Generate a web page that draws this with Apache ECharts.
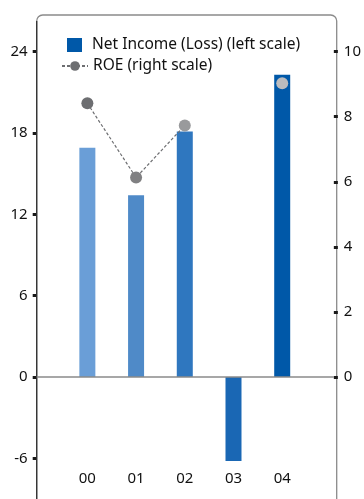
<!DOCTYPE html>
<html>
<head>
<meta charset="utf-8">
<script src="https://cdn.jsdelivr.net/npm/echarts@6/dist/echarts.min.js"></script>
<style>
html,body{margin:0;padding:0;background:#fff;}
#c{width:364px;height:499px;}
</style>
</head>
<body>
<div id="c"></div>
<script>
var categories = ['00', '01', '02', '03', '04'];
var netIncome = [16.9, 13.4, 18.1, -6.2, 22.3];
var roe = [8.41, 6.13, 7.73, null, 9.03];
var barColors = ['#6a9ed7', '#4f8ac8', '#2f77bf', '#1a67b4', '#0058a8'];
var dotColors = ['#6d6e71', '#808082', '#999a9c', '#bcbcbe', '#bcbcbe'];
var leftTicks = [-6, 0, 6, 12, 18, 24];
var rightTicks = [0, 2, 4, 6, 8, 10];

var FONT = 'Noto Sans';
var gL = 36.7, gR = 336.7, gT = 15, gB = 500.3;
var W = 364, H = 499;

var chart = echarts.init(document.getElementById('c'), null, {renderer: 'canvas'});

var barData = netIncome.map(function (v, i) {
  return {value: [i, v], itemStyle: {color: barColors[i]}};
});
var lineData = roe.map(function (v, i) {
  return {value: [i, v], itemStyle: {color: dotColors[i]}};
});

var option = {
  animation: false,
  textStyle: {fontFamily: FONT},
  grid: {left: gL, right: W - gR, top: gT, bottom: H - gB, containLabel: false},
  graphic: [
    {
      type: 'rect', z: 0, silent: true,
      shape: {x: gL, y: gT, width: gR - gL, height: 700, r: 6},
      style: {fill: 'none', stroke: '#8a8a8a', lineWidth: 1.3}
    },
    {
      type: 'line', z: 1, silent: true,
      shape: {x1: gL, y1: gT + 6, x2: gL, y2: 520},
      style: {stroke: '#333', lineWidth: 1.3}
    }
  ],
  legend: [
    {
      data: [{name: 'Net Income (Loss) (left scale)', icon: 'rect'}],
      left: 67, top: 37, itemWidth: 15, itemHeight: 14, padding: 0,
      selectedMode: false,
      textStyle: {fontFamily: FONT, fontSize: 15.5, color: '#111', padding: [0, 0, 0, 5]}
    },
    {
      data: [{name: 'ROE (right scale)'}],
      left: 61, top: 58, itemWidth: 26, itemHeight: 12, padding: 0,
      selectedMode: false,
      textStyle: {fontFamily: FONT, fontSize: 15.5, color: '#111', padding: [0, 0, 0, 0]}
    }
  ],
  xAxis: {
    type: 'value', min: -1.04, max: 5.06,
    offset: -28,
    axisLine: {show: false, onZero: false},
    axisTick: {show: false},
    splitLine: {show: false},
    axisLabel: {
      customValues: categories.map(function (c, i) { return i; }),
      formatter: function (v) { return categories[Math.round(v)]; },
      margin: 0, fontSize: 15, color: '#111', fontFamily: FONT
    }
  },
  yAxis: [
    {
      type: 'value', min: -9, max: 26.7,
      axisLine: {show: false, onZero: false},
      splitLine: {show: false},
      axisTick: {show: true, customValues: leftTicks, length: 4, lineStyle: {color: '#1a1a1a', width: 3}},
      axisLabel: {customValues: leftTicks, margin: 9, fontSize: 15, color: '#111', fontFamily: FONT}
    },
    {
      type: 'value', min: -3.75, max: 11.125, position: 'right',
      axisLine: {show: false, onZero: false},
      splitLine: {show: false},
      axisTick: {show: true, customValues: rightTicks, length: 4, lineStyle: {color: '#1a1a1a', width: 3}},
      axisLabel: {customValues: rightTicks, margin: 10, fontSize: 15, color: '#111', fontFamily: FONT}
    }
  ],
  series: [
    {
      name: 'Net Income (Loss) (left scale)',
      type: 'bar', yAxisIndex: 0, barWidth: 16, z: 2,
      itemStyle: {color: '#0058a8'},
      data: barData,
      markLine: {
        silent: true, symbol: 'none', label: {show: false},
        lineStyle: {color: '#8a8a8a', width: 1.6, type: 'solid'},
        data: [{yAxis: 0}]
      }
    },
    {
      name: 'ROE (right scale)',
      type: 'line', yAxisIndex: 1, z: 3,
      symbol: 'circle', symbolSize: 12,
      connectNulls: false,
      itemStyle: {color: '#6d6e71'},
      lineStyle: {color: '#6d6e71', width: 1.2, type: [3, 2]},
      data: lineData
    }
  ]
};
chart.setOption(option);
</script>
</body>
</html>
